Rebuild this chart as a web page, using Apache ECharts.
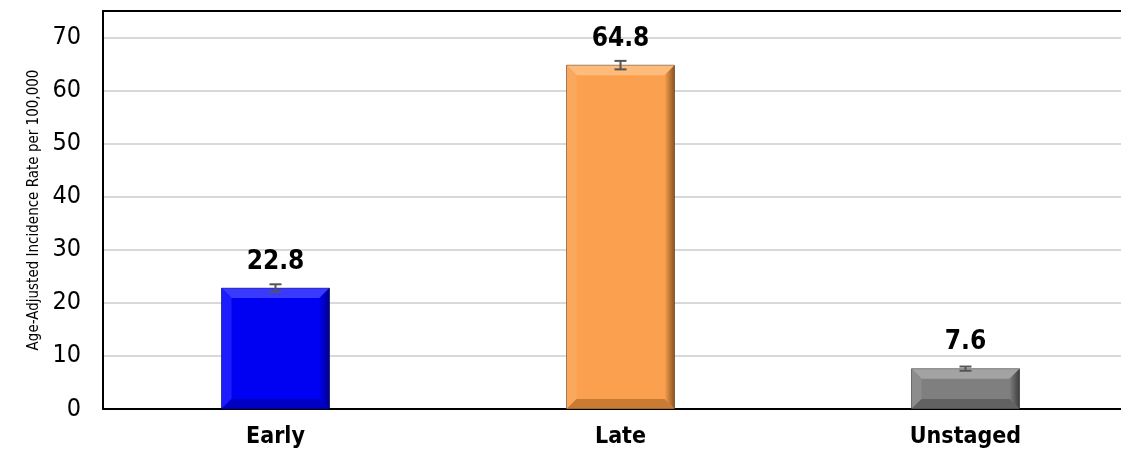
<!DOCTYPE html>
<html>
<head>
<meta charset="utf-8">
<script src="https://cdn.jsdelivr.net/npm/echarts@6/dist/echarts.min.js"></script>
<style>
  html, body { margin: 0; padding: 0; background: #fff; overflow: hidden; width: 1121px; height: 458px; }
  #chart { width: 1140px; height: 458px; }
</style>
</head>
<body>
<div id="chart"></div>
<script>
// Age-adjusted incidence by stage at diagnosis, with 95% confidence intervals
const categories = ['Early', 'Late', 'Unstaged'];
const rates = [22.8, 64.8, 7.6];
const ciLower = [22.1, 64.0, 7.2];
const ciUpper = [23.5, 65.6, 8.0];

// face / top / left / right / bottom shades for the bevelled bars
const barShades = [
  { face: '#0000f2', top: '#3a3aff', left: '#1c1cff', right: '#000088', bottom: '#0000c4' },
  { face: '#fba04f', top: '#fdbb7c', left: '#f9a85e', right: '#8c5522', bottom: '#c97a33' },
  { face: '#7f7f7f', top: '#a3a3a3', left: '#8c8c8c', right: '#3e3e3e', bottom: '#626262' }
];

const NARROW = "'Liberation Sans Narrow', 'Arial Narrow', 'DejaVu Sans Condensed', sans-serif";
const BAR_RATIO = 0.313;

const chart = echarts.init(document.getElementById('chart'), null, { renderer: 'canvas' });

function bevelItem(params, api) {
  const idx = api.value(0);
  const val = api.value(1);
  const shade = barShades[idx];
  const topPt = api.coord([idx, val]);
  const basePt = api.coord([idx, 0]);
  const w = api.size([1, 0])[0] * BAR_RATIO;
  const x0 = topPt[0] - w / 2, x1 = topPt[0] + w / 2;
  const y0 = topPt[1], y1 = basePt[1];
  const b = Math.min(10, (y1 - y0) / 2.5);
  const poly = (pts, fill) => ({ type: 'polygon', shape: { points: pts }, style: { fill: fill } });
  return {
    type: 'group',
    children: [
      poly([[x0, y0], [x1, y0], [x1 - b, y0 + b], [x0 + b, y0 + b]], shade.top),
      poly([[x0, y0], [x0 + b, y0 + b], [x0 + b, y1 - b], [x0, y1]], shade.left),
      {
        type: 'polygon',
        shape: { points: [[x1, y0], [x1, y1], [x1 - b, y1 - b], [x1 - b, y0 + b]] },
        style: {
          fill: new echarts.graphic.LinearGradient(0, 0, 1, 0, [
            { offset: 0, color: shade.face },
            { offset: 1, color: shade.right }
          ])
        }
      },
      poly([[x0, y1], [x0 + b, y1 - b], [x1 - b, y1 - b], [x1, y1]], shade.bottom),
      {
        type: 'rect',
        shape: { x: x0, y: y0, width: w, height: y1 - y0 },
        style: { fill: 'none', stroke: 'rgba(0,0,0,0.35)', lineWidth: 1 }
      }
    ]
  };
}

function errorItem(params, api) {
  const idx = api.value(0);
  const lo = api.coord([idx, api.value(1)]);
  const hi = api.coord([idx, api.value(2)]);
  const cap = 6;
  const style = { stroke: '#555555', lineWidth: 2 };
  return {
    type: 'group',
    children: [
      { type: 'line', shape: { x1: lo[0], y1: lo[1], x2: hi[0], y2: hi[1] }, style: style },
      { type: 'line', shape: { x1: lo[0] - cap, y1: lo[1], x2: lo[0] + cap, y2: lo[1] }, style: style },
      { type: 'line', shape: { x1: hi[0] - cap, y1: hi[1], x2: hi[0] + cap, y2: hi[1] }, style: style }
    ]
  };
}

chart.setOption({
  animation: false,
  backgroundColor: '#ffffff',
  grid: { left: 103, top: 11, right: 2, bottom: 49, containLabel: false },
  xAxis: [
    {
      type: 'category',
      data: categories,
      axisLine: { lineStyle: { color: '#000', width: 2 } },
      axisTick: { show: false },
      axisLabel: { color: '#000', fontFamily: NARROW, fontWeight: 'bold', fontSize: 23, margin: 17 }
    },
    {
      type: 'category',
      position: 'top',
      data: categories,
      axisLine: { show: true, lineStyle: { color: '#000', width: 2 } },
      axisTick: { show: false },
      axisLabel: { show: false }
    }
  ],
  yAxis: {
    type: 'value',
    min: 0,
    max: 75,
    interval: 10,
    name: 'Age-Adjusted Incidence Rate per 100,000',
    nameLocation: 'middle',
    nameGap: 56,
    nameTextStyle: { color: '#000', fontFamily: NARROW, fontSize: 15 },
    axisLine: { show: true, lineStyle: { color: '#000', width: 2 } },
    axisTick: { show: false },
    axisLabel: { color: '#000', fontFamily: NARROW, fontSize: 25, margin: 22, showMaxLabel: false },
    splitLine: { lineStyle: { color: '#d9d9d9', width: 2 } }
  },
  series: [
    {
      type: 'bar',
      data: rates.map((v, i) => ({ value: v, itemStyle: { color: barShades[i].face } })),
      barWidth: (BAR_RATIO * 100) + '%',
      label: {
        show: true,
        position: 'top',
        distance: 13,
        color: '#000',
        fontFamily: NARROW,
        fontWeight: 'bold',
        fontSize: 26
      },
      z: 2
    },
    {
      type: 'custom',
      renderItem: bevelItem,
      data: rates.map((v, i) => [i, v]),
      z: 3,
      silent: true
    },
    {
      type: 'custom',
      renderItem: errorItem,
      data: rates.map((v, i) => [i, ciLower[i], ciUpper[i]]),
      z: 4,
      silent: true
    }
  ]
});
</script>
</body>
</html>
